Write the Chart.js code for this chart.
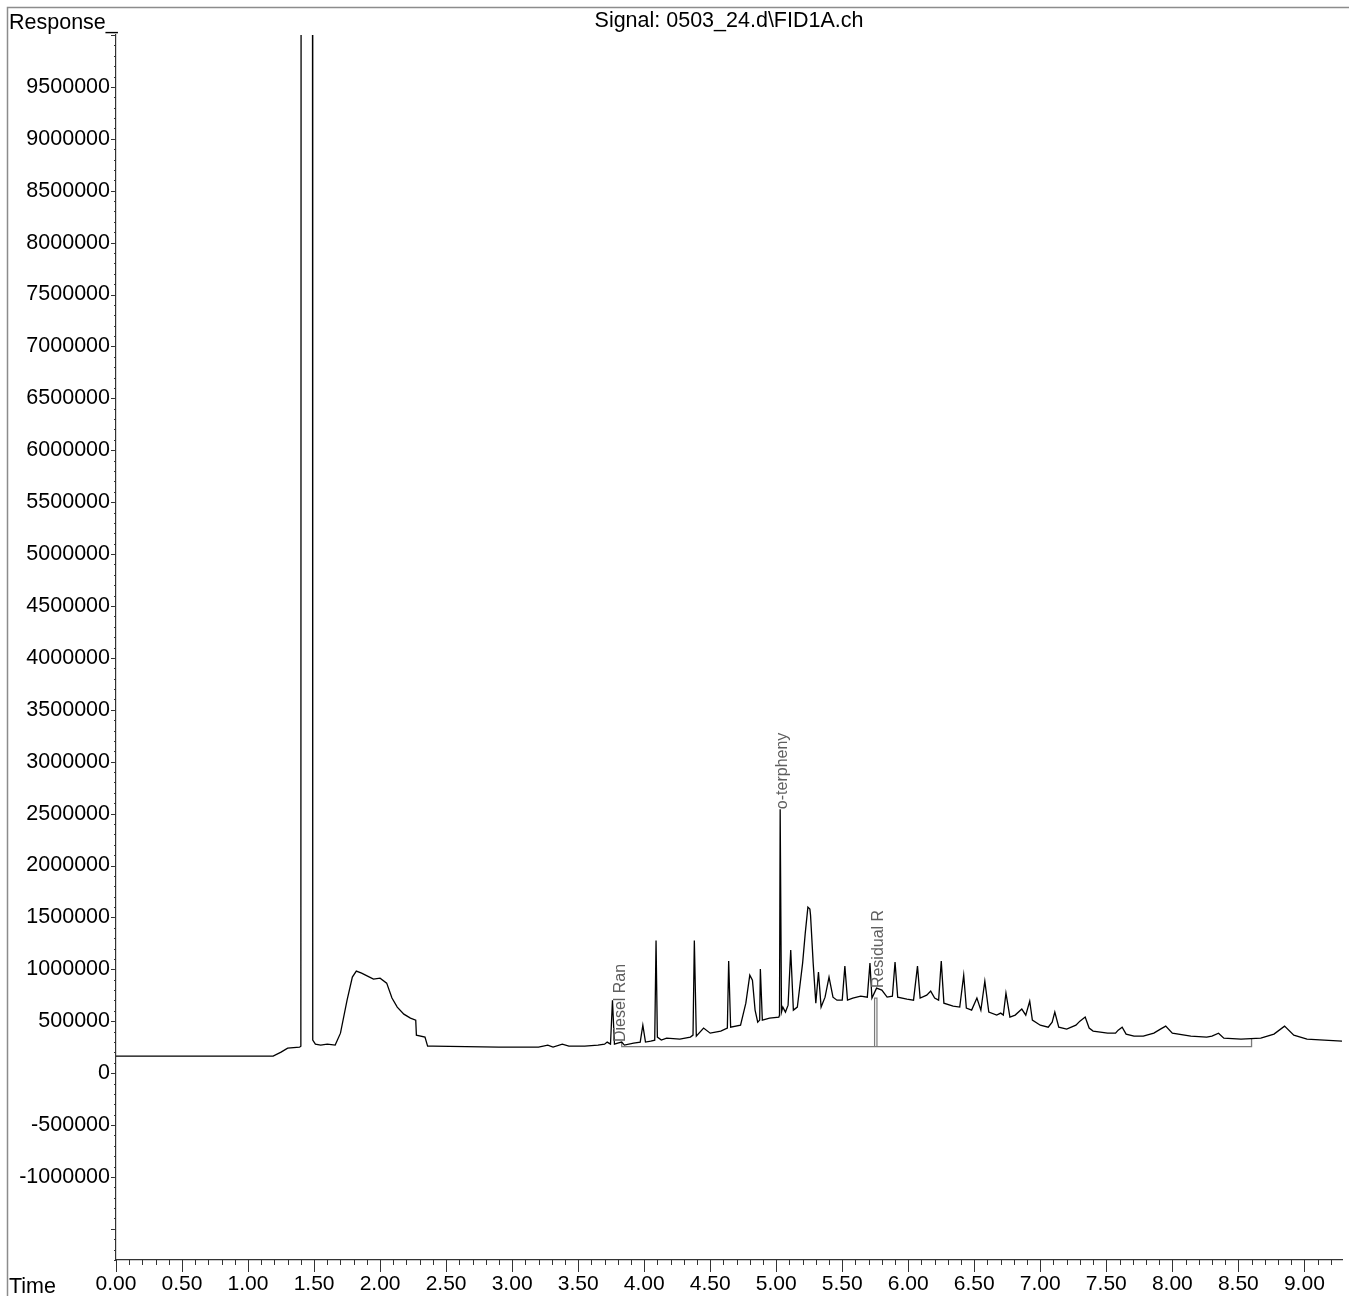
<!DOCTYPE html>
<html>
<head>
<meta charset="utf-8">
<title>FID1A</title>
<script src="https://cdn.jsdelivr.net/npm/chart.js"></script>
<style>
  html, body { margin: 0; padding: 0; background: #fff; }
  canvas { display: block; }
</style>
</head>
<body>
<canvas id="fid-chart" width="1349" height="1296"></canvas>
<script>
// --- Данные хроматограммы (время, мин / отклик) ---
const timesMin = [
    0.00, 1.19, 1.25, 1.30, 1.39, 1.40, 1.402, 1.488, 1.49, 1.51, 1.55, 1.60, 1.66,
    1.70, 1.75, 1.79, 1.82, 1.86, 1.89, 1.95, 2.00, 2.05, 2.09, 2.13, 2.18, 2.23,
    2.27, 2.275, 2.34, 2.36, 2.40, 2.90, 3.20, 3.27, 3.31, 3.38, 3.43, 3.55, 3.65,
    3.70, 3.72, 3.745, 3.76, 3.775, 3.80, 3.83, 3.85, 3.92, 3.97, 3.99, 4.01, 4.05,
    4.08, 4.09, 4.10, 4.13, 4.17, 4.27, 4.35, 4.37, 4.38, 4.395, 4.45, 4.50, 4.58,
    4.63, 4.64, 4.655, 4.73, 4.77, 4.80, 4.82, 4.84, 4.86, 4.875, 4.88, 4.895, 4.95,
    5.02, 5.025, 5.03, 5.04, 5.05, 5.07, 5.09, 5.11, 5.13, 5.16, 5.20, 5.22, 5.24,
    5.255, 5.26, 5.28, 5.30, 5.32, 5.34, 5.37, 5.40, 5.43, 5.46, 5.50, 5.52, 5.54,
    5.58, 5.64, 5.69, 5.71, 5.725, 5.76, 5.80, 5.84, 5.88, 5.90, 5.92, 5.99, 6.04,
    6.07, 6.09, 6.14, 6.17, 6.20, 6.23, 6.25, 6.27, 6.34, 6.39, 6.42, 6.44, 6.48,
    6.52, 6.55, 6.58, 6.61, 6.67, 6.70, 6.72, 6.74, 6.77, 6.81, 6.86, 6.89, 6.92,
    6.94, 7.00, 7.06, 7.09, 7.11, 7.14, 7.20, 7.27, 7.30, 7.34, 7.37, 7.40, 7.51,
    7.57, 7.59, 7.62, 7.65, 7.71, 7.78, 7.86, 7.91, 7.95, 8.00, 8.14, 8.26, 8.30,
    8.35, 8.39, 8.52, 8.67, 8.77, 8.85, 8.92, 9.02, 9.15, 9.285
];
const responseValues = [
    164000, 164000, 202000, 241000, 250000, 260000, 12000000, 12000000, 318000, 279000, 270000, 279000, 270000,
    385000, 703000, 925000, 983000, 963000, 944000, 906000, 915000, 867000, 723000, 636000, 568000, 530000,
    511000, 366000, 347000, 260000, 260000, 250000, 250000, 270000, 250000, 279000, 260000, 260000, 270000,
    279000, 299000, 279000, 703000, 279000, 289000, 299000, 270000, 289000, 299000, 462000, 299000, 308000,
    318000, 1277000, 347000, 318000, 337000, 328000, 347000, 366000, 1277000, 356000, 434000, 385000, 405000,
    434000, 1079000, 443000, 462000, 674000, 944000, 896000, 607000, 491000, 511000, 1002000, 511000, 530000,
    540000, 559000, 2543000, 588000, 636000, 588000, 655000, 1185000, 607000, 636000, 1060000, 1349000, 1599000,
    1580000, 1522000, 1060000, 674000, 973000, 636000, 732000, 925000, 732000, 703000, 703000, 1031000, 703000,
    723000, 742000, 732000, 1060000, 723000, 819000, 800000, 732000, 742000, 1069000, 732000, 713000, 703000,
    1031000, 723000, 751000, 790000, 723000, 703000, 1079000, 674000, 645000, 636000, 944000, 626000, 607000,
    723000, 607000, 886000, 588000, 559000, 578000, 559000, 771000, 540000, 559000, 617000, 559000, 694000,
    511000, 462000, 443000, 491000, 588000, 443000, 424000, 462000, 501000, 540000, 434000, 405000, 385000,
    385000, 414000, 443000, 376000, 356000, 356000, 385000, 424000, 453000, 385000, 356000, 347000, 356000,
    385000, 337000, 328000, 337000, 376000, 453000, 366000, 328000, 318000, 308000
];

// базовая линия интегрирования и метка границы диапазона
const baselineTimes = [3.83, 3.83, 8.60, 8.60];
const baselineValues = [299000, 255000, 255000, 328000];
const residualMarkTimes = [5.745, 5.745, 5.763, 5.763];
const residualMarkValues = [255000, 723000, 723000, 255000];

// подписи пиков
const peakLabels = ['Diesel Ran', 'o-terpheny', 'Residual R'];
const peakLabelTimes = [3.824, 5.045, 5.775];
const peakLabelValues = [299000, 2543000, 819000];

// оси
const xRange = [0, 9.285];
const yRange = [-1800000, 10000000];
const xMinorStep = 0.1;
const yMinorStep = 100000;
const yLabelRange = [-1000000, 9500000];

const signalTitle = 'Signal: 0503_24.d\\FID1A.ch';
const yAxisName = 'Response_';
const xAxisName = 'Time';

// --- Стиль ---
const FONT = "'Liberation Sans', Arial, sans-serif";
const AXIS_COLOR = '#333333';
const FRAME_COLOR = '#8c8c8c';
const MARK_COLOR = '#7a7a7a';

const toPoints = (xs, ys) => xs.map((t, i) => ({ x: t, y: ys[i] }));

const isMajorX = v => Math.round(v * 10) % 5 === 0;
const isMajorY = v => Math.round(v) % 500000 === 0;

// рамка, подписи осей, засечки и подписи пиков
const decorations = {
    id: 'decorations',
    beforeDraw(chart) {
        const { ctx, width, height } = chart;
        ctx.save();
        ctx.strokeStyle = FRAME_COLOR;
        ctx.lineWidth = 1.5;
        ctx.beginPath();
        ctx.moveTo(7.5, height);
        ctx.lineTo(7.5, 7.5);
        ctx.lineTo(width, 7.5);
        ctx.stroke();
        ctx.restore();
    },
    afterDraw(chart) {
        const { ctx, scales: { x, y } } = chart;
        ctx.save();

        // засечки
        ctx.strokeStyle = AXIS_COLOR;
        ctx.lineWidth = 1;
        ctx.beginPath();
        x.ticks.forEach(t => {
            const px = Math.round(x.getPixelForValue(t.value)) + 0.5;
            const len = isMajorX(t.value) ? 12 : 5;
            ctx.moveTo(px, x.top);
            ctx.lineTo(px, x.top + len);
        });
        y.ticks.forEach(t => {
            const py = Math.round(y.getPixelForValue(t.value)) + 0.5;
            const len = isMajorY(t.value) ? 5 : 2;
            ctx.moveTo(y.right, py);
            ctx.lineTo(y.right - len, py);
        });
        ctx.stroke();

        // названия осей
        ctx.fillStyle = '#000';
        ctx.font = `21.5px ${FONT}`;
        ctx.textAlign = 'left';
        ctx.textBaseline = 'alphabetic';
        ctx.fillText(yAxisName, 9, 28.5);
        ctx.fillText(xAxisName, 9, 1292.5);

        // подписи пиков (вертикально)
        ctx.fillStyle = '#5f5f5f';
        ctx.font = `16px ${FONT}`;
        ctx.textBaseline = 'middle';
        peakLabels.forEach((label, i) => {
            const px = x.getPixelForValue(peakLabelTimes[i]);
            const py = y.getPixelForValue(peakLabelValues[i]);
            ctx.save();
            ctx.translate(px, py);
            ctx.rotate(-Math.PI / 2);
            ctx.fillText(label, 0, 0);
            ctx.restore();
        });
        ctx.restore();
    }
};

const ctx = document.getElementById('fid-chart').getContext('2d');

new Chart(ctx, {
    type: 'scatter',
    data: {
        datasets: [
            {
                label: 'FID1A',
                data: toPoints(timesMin, responseValues),
                showLine: true,
                borderColor: '#000',
                borderWidth: 1.3,
                pointRadius: 0,
                tension: 0,
                order: 0
            },
            {
                label: 'baseline',
                data: toPoints(baselineTimes, baselineValues),
                showLine: true,
                borderColor: MARK_COLOR,
                borderWidth: 1.3,
                pointRadius: 0,
                order: 1
            },
            {
                label: 'residual',
                data: toPoints(residualMarkTimes, residualMarkValues),
                showLine: true,
                borderColor: MARK_COLOR,
                borderWidth: 1.2,
                pointRadius: 0,
                order: 1
            }
        ]
    },
    options: {
        responsive: false,
        animation: false,
        events: [],
        layout: { padding: { left: 0, top: 0, right: 7, bottom: 0 } },
        plugins: {
            legend: { display: false },
            tooltip: { enabled: false },
            title: {
                display: true,
                text: signalTitle,
                fullSize: false,
                color: '#000',
                font: { family: FONT, size: 21.5, weight: 'normal', lineHeight: 1 },
                padding: { top: 10, bottom: 3.5 }
            }
        },
        scales: {
            x: {
                type: 'linear',
                min: xRange[0],
                max: xRange[1],
                grid: { display: false, drawTicks: false },
                border: { display: true, color: AXIS_COLOR, width: 1.2 },
                ticks: {
                    stepSize: xMinorStep,
                    includeBounds: false,
                    autoSkip: false,
                    maxRotation: 0,
                    padding: 12,
                    color: '#000',
                    font: { family: FONT, size: 21 },
                    callback: v => isMajorX(v) ? v.toFixed(2) : ''
                },
                afterFit: scale => { scale.height = 36; }
            },
            y: {
                type: 'linear',
                min: yRange[0],
                max: yRange[1],
                grid: { display: false, drawTicks: false },
                border: { display: true, color: AXIS_COLOR, width: 1.2 },
                ticks: {
                    stepSize: yMinorStep,
                    autoSkip: false,
                    padding: 6,
                    color: '#000',
                    font: { family: FONT, size: 21.5 },
                    callback: v => (isMajorY(v) && v >= yLabelRange[0] && v <= yLabelRange[1]) ? String(Math.round(v)) : ''
                },
                afterFit: scale => { scale.width = 116; }
            }
        }
    },
    plugins: [decorations]
});
</script>
</body>
</html>
